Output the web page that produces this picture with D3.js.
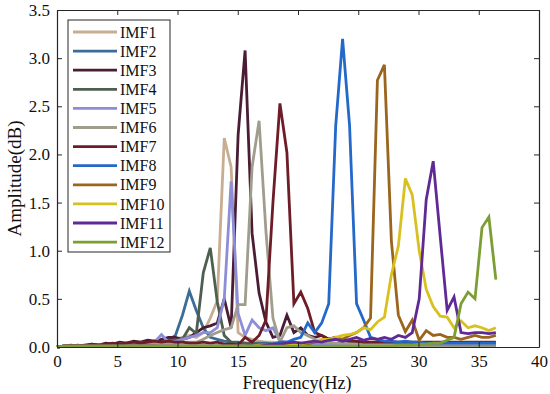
<!DOCTYPE html>
<head>
  <meta charset="utf-8">
  <title>IMF spectra</title>
  <style>
      body { margin: 0; background: #fff; }
      text { font-family: "Liberation Serif", "Times New Roman", serif; }
  </style>
  <script src="https://d3js.org/d3.v7.js"></script>
</head>
<body>
<div id="chart"></div>
<script>
    // frequency bins (Hz)
    const freqs = [0, 0.58, 1.16, 1.73, 2.31, 2.89, 3.47, 4.05, 4.63, 5.2, 5.78, 6.36, 6.94, 7.52, 8.09, 8.67,
        9.25, 9.83, 10.41, 10.98, 11.56, 12.14, 12.72, 13.3, 13.88, 14.45, 15.03, 15.61, 16.19, 16.77, 17.34, 17.92,
        18.5, 19.08, 19.66, 20.23, 20.81, 21.39, 21.97, 22.55, 23.13, 23.7, 24.28, 24.86, 25.44, 26.02, 26.59, 27.17,
        27.75, 28.33, 28.91, 29.48, 30.06, 30.64, 31.22, 31.8, 32.38, 32.95, 33.53, 34.11, 34.69, 35.27, 35.84, 36.42];

    const names = ["IMF1", "IMF2", "IMF3", "IMF4", "IMF5", "IMF6", "IMF7", "IMF8", "IMF9", "IMF10", "IMF11", "IMF12"];
    const colors = ["#c8ad93", "#3b6d97", "#4a1d35", "#4e5e4f", "#8e8ed8", "#a19d8c", "#6e1c27", "#2469c9",
        "#9a651c", "#d8c11f", "#5f2a95", "#7c9e35"];

    const imf1 = [0, 0.01, 0.01, 0.01, 0.02, 0.02, 0.02, 0.03, 0.03, 0.03, 0.04, 0.04, 0.05, 0.05, 0.06, 0.06,
        0.07, 0.08, 0.1, 0.12, 0.1, 0.15, 0.3, 0.48, 2.17, 1.87, 0.15, 0.1, 0.08, 0.06, 0.05, 0.05,
        0.04, 0.05, 0.04, 0.04, 0.03, 0.03, 0.03, 0.03, 0.02, 0.02, 0.02, 0.02, 0.02, 0.02, 0.02, 0.02,
        0.02, 0.02, 0.02, 0.02, 0.02, 0.02, 0.02, 0.02, 0.02, 0.02, 0.02, 0.02, 0.02, 0.02, 0.02, 0.02];
    const imf2 = [0, 0.01, 0.01, 0.01, 0.01, 0.02, 0.02, 0.02, 0.03, 0.03, 0.03, 0.04, 0.04, 0.05, 0.05, 0.06,
        0.07, 0.12, 0.33, 0.58, 0.38, 0.2, 0.1, 0.08, 0.06, 0.05, 0.05, 0.04, 0.04, 0.04, 0.04, 0.03,
        0.03, 0.03, 0.03, 0.03, 0.03, 0.03, 0.03, 0.03, 0.03, 0.03, 0.03, 0.03, 0.03, 0.03, 0.03, 0.03,
        0.03, 0.03, 0.03, 0.03, 0.03, 0.03, 0.03, 0.03, 0.03, 0.03, 0.03, 0.03, 0.03, 0.03, 0.03, 0.03];
    const imf3 = [0, 0.01, 0.01, 0.02, 0.01, 0.03, 0.02, 0.04, 0.03, 0.05, 0.04, 0.06, 0.05, 0.07, 0.06, 0.08,
        0.1, 0.1, 0.08, 0.1, 0.15, 0.2, 0.22, 0.25, 0.5, 0.2, 2.2, 3.08, 1.18, 0.56, 0.26, 0.1,
        0.12, 0.33, 0.15, 0.2, 0.12, 0.1, 0.12, 0.08, 0.1, 0.05, 0.06, 0.05, 0.05, 0.04, 0.04, 0.04,
        0.04, 0.04, 0.04, 0.04, 0.04, 0.04, 0.04, 0.04, 0.04, 0.04, 0.04, 0.04, 0.04, 0.04, 0.04, 0.04];
    const imf4 = [0, 0.01, 0.01, 0.01, 0.01, 0.02, 0.02, 0.02, 0.02, 0.03, 0.03, 0.03, 0.04, 0.04, 0.04, 0.05,
        0.06, 0.07, 0.08, 0.2, 0.14, 0.77, 1.03, 0.47, 0.12, 0.05, 0.04, 0.04, 0.03, 0.03, 0.03, 0.03,
        0.03, 0.03, 0.02, 0.02, 0.02, 0.02, 0.02, 0.02, 0.02, 0.02, 0.02, 0.02, 0.02, 0.02, 0.02, 0.02,
        0.02, 0.02, 0.02, 0.02, 0.02, 0.02, 0.02, 0.02, 0.02, 0.02, 0.02, 0.02, 0.02, 0.02, 0.02, 0.02];
    const imf5 = [0, 0.01, 0.01, 0.01, 0.01, 0.02, 0.02, 0.02, 0.02, 0.03, 0.03, 0.03, 0.04, 0.04, 0.05, 0.13,
        0.05, 0.06, 0.08, 0.1, 0.12, 0.15, 0.15, 0.2, 0.5, 1.72, 0.35, 0.12, 0.28, 0.2, 0.17, 0.2,
        0.06, 0.05, 0.04, 0.04, 0.03, 0.03, 0.03, 0.03, 0.03, 0.03, 0.03, 0.03, 0.03, 0.03, 0.03, 0.03,
        0.03, 0.03, 0.03, 0.03, 0.03, 0.03, 0.03, 0.03, 0.03, 0.03, 0.03, 0.03, 0.03, 0.03, 0.03, 0.03];
    const imf6 = [0, 0.01, 0.01, 0.01, 0.01, 0.01, 0.02, 0.02, 0.02, 0.02, 0.03, 0.03, 0.03, 0.03, 0.04, 0.04,
        0.04, 0.04, 0.05, 0.05, 0.05, 0.08, 0.12, 0.15, 0.18, 0.2, 0.44, 0.44, 1.87, 2.35, 1.2, 0.3,
        0.05, 0.2, 0.22, 0.15, 0.12, 0.08, 0.06, 0.05, 0.04, 0.04, 0.04, 0.03, 0.03, 0.03, 0.03, 0.03,
        0.03, 0.03, 0.03, 0.03, 0.03, 0.03, 0.03, 0.03, 0.03, 0.03, 0.03, 0.03, 0.03, 0.03, 0.03, 0.03];
    const imf7 = [0, 0.01, 0.02, 0.01, 0.02, 0.03, 0.02, 0.03, 0.04, 0.03, 0.04, 0.05, 0.04, 0.05, 0.06, 0.05,
        0.06, 0.05, 0.05, 0.04, 0.04, 0.05, 0.04, 0.05, 0.03, 0.03, 0.02, 0.1, 0.05, 0.12, 0.28, 1.5,
        2.53, 2.02, 0.45, 0.57, 0.4, 0.15, 0.12, 0.08, 0.1, 0.07, 0.06, 0.06, 0.05, 0.05, 0.05, 0.05,
        0.05, 0.05, 0.05, 0.05, 0.05, 0.05, 0.05, 0.05, 0.05, 0.05, 0.05, 0.05, 0.05, 0.05, 0.05, 0.05];
    const imf8 = [0, 0.01, 0.01, 0.01, 0.01, 0.01, 0.01, 0.01, 0.01, 0.01, 0.01, 0.01, 0.01, 0.01, 0.01, 0.01,
        0.01, 0.01, 0.01, 0.01, 0.01, 0.01, 0.01, 0.01, 0.01, 0.01, 0.01, 0.01, 0.02, 0.02, 0.02, 0.03,
        0.05, 0.05, 0.08, 0.1, 0.25, 0.15, 0.25, 0.45, 2.3, 3.2, 2.3, 0.45, 0.28, 0.1, 0.08, 0.06,
        0.06, 0.05, 0.06, 0.05, 0.05, 0.04, 0.04, 0.04, 0.04, 0.04, 0.04, 0.04, 0.04, 0.04, 0.04, 0.04];
    const imf9 = [0, 0.01, 0.01, 0.01, 0.01, 0.01, 0.01, 0.01, 0.01, 0.01, 0.01, 0.01, 0.01, 0.01, 0.01, 0.01,
        0.01, 0.01, 0.01, 0.01, 0.01, 0.01, 0.01, 0.01, 0.01, 0.01, 0.01, 0.01, 0.01, 0.01, 0.02, 0.02,
        0.02, 0.02, 0.02, 0.03, 0.03, 0.05, 0.06, 0.08, 0.1, 0.08, 0.12, 0.15, 0.2, 0.3, 2.77, 2.93,
        1.1, 0.33, 0.16, 0.28, 0.07, 0.17, 0.12, 0.13, 0.1, 0.1, 0.08, 0.1, 0.12, 0.1, 0.1, 0.12];
    const imf10 = [0, 0.01, 0.01, 0.01, 0.01, 0.01, 0.01, 0.01, 0.01, 0.01, 0.01, 0.01, 0.01, 0.01, 0.01, 0.01,
        0.01, 0.01, 0.01, 0.01, 0.01, 0.01, 0.01, 0.01, 0.01, 0.01, 0.01, 0.01, 0.01, 0.02, 0.02, 0.02,
        0.02, 0.02, 0.02, 0.03, 0.05, 0.06, 0.08, 0.08, 0.1, 0.12, 0.13, 0.15, 0.2, 0.18, 0.26, 0.31,
        0.75, 1.05, 1.75, 1.58, 1.0, 0.6, 0.42, 0.32, 0.31, 0.2, 0.27, 0.2, 0.22, 0.2, 0.17, 0.2];
    const imf11 = [0, 0.01, 0.01, 0.01, 0.01, 0.01, 0.01, 0.01, 0.01, 0.01, 0.01, 0.01, 0.01, 0.01, 0.01, 0.01,
        0.01, 0.01, 0.01, 0.01, 0.01, 0.01, 0.01, 0.01, 0.01, 0.01, 0.01, 0.01, 0.01, 0.01, 0.02, 0.03,
        0.03, 0.04, 0.05, 0.04, 0.05, 0.06, 0.05, 0.07, 0.08, 0.06, 0.08, 0.1, 0.07, 0.09, 0.08, 0.1,
        0.08, 0.12, 0.1, 0.15, 0.5, 1.53, 1.93, 1.15, 0.38, 0.52, 0.15, 0.14, 0.15, 0.15, 0.14, 0.15];
    const imf12 = [0, 0.01, 0.01, 0.01, 0.01, 0.01, 0.01, 0.01, 0.01, 0.01, 0.01, 0.01, 0.01, 0.01, 0.01, 0.01,
        0.01, 0.01, 0.01, 0.01, 0.01, 0.01, 0.01, 0.01, 0.01, 0.01, 0.01, 0.01, 0.01, 0.01, 0.01, 0.01,
        0.01, 0.01, 0.01, 0.01, 0.01, 0.01, 0.01, 0.01, 0.01, 0.01, 0.01, 0.01, 0.01, 0.01, 0.01, 0.01,
        0.01, 0.02, 0.02, 0.02, 0.03, 0.03, 0.04, 0.04, 0.07, 0.1, 0.45, 0.57, 0.5, 1.24, 1.35, 0.7];
    const series = [imf1, imf2, imf3, imf4, imf5, imf6, imf7, imf8, imf9, imf10, imf11, imf12];

    const xTicks = [0, 5, 10, 15, 20, 25, 30, 35, 40];
    const yTicks = [0, 0.5, 1, 1.5, 2, 2.5, 3, 3.5];

    const W = 550, H = 394;
    const margin = {top: 10, right: 11, bottom: 47, left: 57};

    const svg = d3.select("#chart").append("svg")
        .attr("width", W)
        .attr("height", H);

    const x = d3.scaleLinear().domain([0, 40]).range([margin.left, W - margin.right]);
    const y = d3.scaleLinear().domain([0, 3.5]).range([H - margin.bottom, margin.top]);

    // lines
    const line = d3.line()
        .x((d, i) => x(freqs[i]))
        .y(d => y(d));

    svg.append("g")
        .selectAll("path")
        .data(series)
        .join("path")
        .attr("d", line)
        .attr("fill", "none")
        .attr("stroke", (d, i) => colors[i])
        .attr("stroke-width", 2.8)
        .attr("stroke-linejoin", "miter");

    // axes, ticks inward on all sides
    const tickStyle = g => {
        g.select(".domain").attr("stroke", "#262626").attr("stroke-width", 1.2);
        g.selectAll(".tick line").attr("stroke", "#262626");
        g.selectAll(".tick text")
            .attr("fill", "#111")
            .style("font-family", "'Liberation Serif', serif")
            .style("font-size", "17px");
    };

    svg.append("g")
        .attr("transform", `translate(0,${y(0)})`)
        .call(d3.axisBottom(x).tickValues(xTicks).tickSize(-5).tickPadding(8).tickSizeOuter(0))
        .call(tickStyle);
    svg.append("g")
        .attr("transform", `translate(0,${y(3.5)})`)
        .call(d3.axisTop(x).tickValues(xTicks).tickSize(-5).tickSizeOuter(0).tickFormat(""))
        .call(tickStyle);
    svg.append("g")
        .attr("transform", `translate(${x(0)},0)`)
        .call(d3.axisLeft(y).tickValues(yTicks).tickSize(-5).tickPadding(7).tickSizeOuter(0))
        .call(tickStyle);
    svg.append("g")
        .attr("transform", `translate(${x(40)},0)`)
        .call(d3.axisRight(y).tickValues(yTicks).tickSize(-5).tickSizeOuter(0).tickFormat(""))
        .call(tickStyle);

    // axis titles
    svg.append("text")
        .attr("x", 297)
        .attr("y", 389)
        .attr("text-anchor", "middle")
        .attr("fill", "#111")
        .style("font-size", "18px")
        .text("Frequency(Hz)");
    svg.append("text")
        .attr("transform", `translate(21,${(y(0) + y(3.5)) / 2}) rotate(-90)`)
        .attr("text-anchor", "middle")
        .attr("fill", "#111")
        .style("font-size", "19px")
        .text("Amplitude(dB)");

    // legend
    const lg = svg.append("g").attr("transform", "translate(68,20)");
    lg.append("rect")
        .attr("width", 102).attr("height", 232)
        .attr("fill", "#fff")
        .attr("stroke", "#262626")
        .attr("stroke-width", 1);
    const item = lg.selectAll("g.item")
        .data(names)
        .join("g")
        .attr("class", "item")
        .attr("transform", (d, i) => `translate(0,${12 + i * 19.1})`);
    item.append("line")
        .attr("x1", 5).attr("x2", 49)
        .attr("stroke", (d, i) => colors[i])
        .attr("stroke-width", 2.8);
    item.append("text")
        .attr("x", 52)
        .attr("dy", "0.35em")
        .attr("fill", "#111")
        .style("font-size", "16px")
        .text(d => d);
</script>
</body>
